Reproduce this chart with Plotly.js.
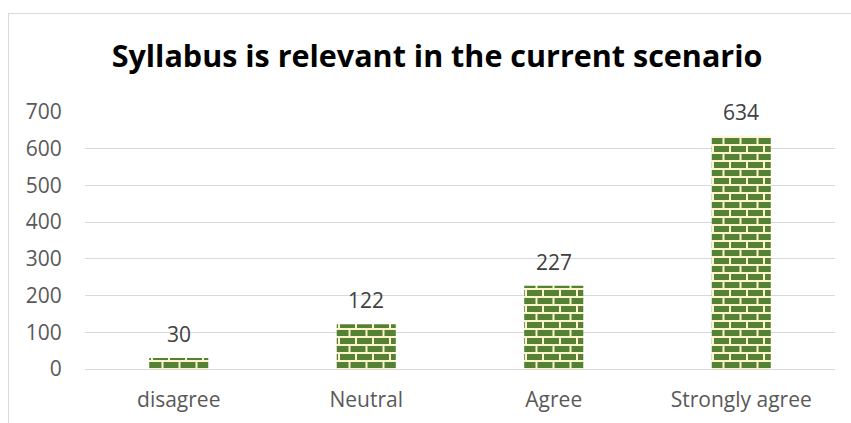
<!DOCTYPE html>
<html>
<head>
<meta charset="utf-8">
<script src="https://cdn.plot.ly/plotly-3.0.1.min.js"></script>
<style>
  html, body { margin: 0; padding: 0; background: #ffffff; }
  #wrap { position: relative; width: 851px; height: 423px; overflow: hidden; }
  #chart { width: 851px; height: 423px; }
  #frame { position: absolute; left: 8px; top: 13px; width: 900px; height: 500px;
           border-top: 1px solid #d9d9d9; border-left: 1px solid #d9d9d9; pointer-events: none; }
</style>
</head>
<body>
<div id="wrap">
  <div id="chart"></div>
  <div id="frame"></div>
</div>
<script>
const categories = ["disagree", "Neutral", "Agree", "Strongly agree"];
const counts = [30, 122, 227, 634];
const yTickValues = [0, 100, 200, 300, 400, 500, 600, 700];
const chartTitle = "Syllabus is relevant in the current scenario";

const labelAnnotations = categories.map((c, i) => ({
  x: c, y: counts[i], xref: "x", yref: "y",
  text: String(counts[i]), showarrow: false,
  yanchor: "middle", yshift: 24,
  font: { family: "Open Sans, sans-serif", size: 21, color: "#404040" }
}));

const trace = {
  type: "bar",
  x: categories,
  y: counts,
  marker: { color: "#548235", line: { width: 0 } },
  hoverinfo: "none"
};

const layout = {
  width: 851, height: 423,
  margin: { l: 85, r: 16, t: 112, b: 54 },
  paper_bgcolor: "#ffffff", plot_bgcolor: "#ffffff",
  showlegend: false,
  bargap: 0.685,
  title: {
    text: chartTitle,
    font: { family: "Open Sans, sans-serif", size: 30.5, color: "#000000", weight: "bold" },
    x: 437 / 851, xref: "container", xanchor: "center",
    y: 1 - 56 / 423, yref: "container", yanchor: "middle"
  },
  xaxis: {
    type: "category",
    showgrid: false, showline: false, zeroline: false,
    ticks: "outside", ticklen: 12, tickcolor: "rgba(0,0,0,0)",
    tickfont: { family: "Open Sans, sans-serif", size: 21, color: "#595959" }
  },
  yaxis: {
    range: [0, 700],
    tickvals: yTickValues,
    showgrid: true, gridcolor: "#d9d9d9", gridwidth: 1,
    zeroline: true, zerolinecolor: "#d9d9d9", zerolinewidth: 1,
    showline: false,
    ticks: "outside", ticklen: 18, tickcolor: "rgba(0,0,0,0)",
    tickfont: { family: "Open Sans, sans-serif", size: 21, color: "#595959" }
  },
  annotations: labelAnnotations
};

Plotly.newPlot("chart", [trace], layout, { staticPlot: true, displayModeBar: false }).then(gd => {
  const svg = gd.querySelector("svg.main-svg");
  const ns = "http://www.w3.org/2000/svg";
  let defs = svg.querySelector("defs");
  if (!defs) { defs = document.createElementNS(ns, "defs"); svg.insertBefore(defs, svg.firstChild); }
  const pat = document.createElementNS(ns, "pattern");
  pat.setAttribute("id", "brickPattern");
  pat.setAttribute("patternUnits", "userSpaceOnUse");
  pat.setAttribute("width", "17");
  pat.setAttribute("height", "16");
  const parts = [
    ["rect", { x: 0, y: 0, width: 17, height: 16, fill: "#FFF2CC" }],
    ["rect", { x: 0, y: 2, width: 15, height: 6, fill: "#548235" }],
    ["rect", { x: 10.5, y: 10, width: 15, height: 6, fill: "#548235" }],
    ["rect", { x: -6.5, y: 10, width: 15, height: 6, fill: "#548235" }]
  ];
  parts.forEach(([tag, attrs]) => {
    const el = document.createElementNS(ns, tag);
    Object.entries(attrs).forEach(([k, v]) => el.setAttribute(k, v));
    pat.appendChild(el);
  });
  defs.appendChild(pat);
  gd.querySelectorAll(".trace.bars .point path").forEach(p => {
    p.style.fill = "url(#brickPattern)";
  });
});
</script>
</body>
</html>
